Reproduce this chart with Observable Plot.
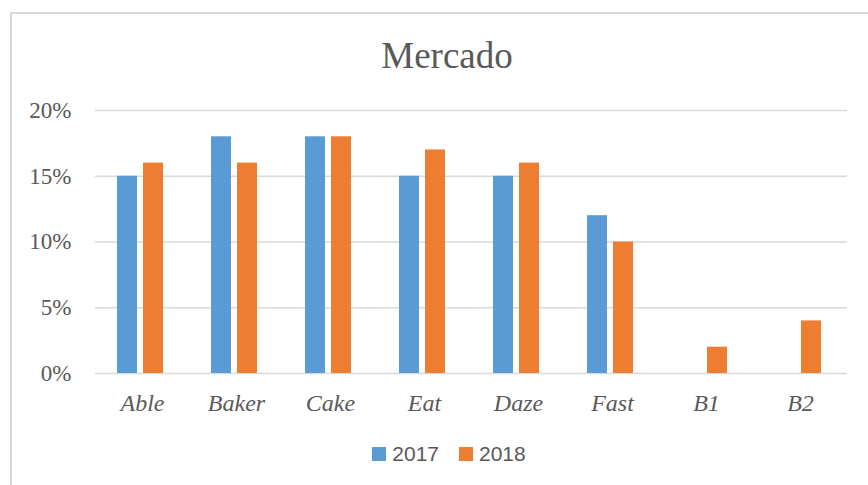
<!DOCTYPE html>
<html>
<head>
<meta charset="utf-8">
<script src="https://cdn.jsdelivr.net/npm/d3@7"></script>
<script src="https://cdn.jsdelivr.net/npm/@observablehq/plot@0.6"></script>
<style>
  html, body { margin: 0; padding: 0; background: #fff; overflow: hidden; }
  #wrap { position: relative; width: 868px; height: 485px; }
  #frame { position: absolute; left: 10px; top: 12px; width: 900px; height: 520px; border: 2px solid #d9d9d9; box-sizing: border-box; }
  #title { position: absolute; left: 11px; width: 872px; top: 37px; text-align: center; font-family: "Liberation Serif", serif; font-size: 37px; line-height: 37px; color: #595959; }
  #chart { position: absolute; left: 0; top: 90px; }
  #legend { position: absolute; left: 13px; width: 872px; top: 443px; display: flex; justify-content: center; align-items: center; font-family: "Liberation Sans", sans-serif; font-size: 21px; line-height: 21px; color: #595959; }
  #legend .sw { display: inline-block; width: 14px; height: 14px; margin-right: 6px; }
  #legend .item { display: flex; align-items: center; margin: 0 10px; }
  #chart svg text { font-family: "Liberation Serif", serif !important; }
  #chart svg [aria-label^="y-axis"] text { font-size: 23px; }
  #chart svg [aria-label^="fx-axis"] text { font-style: italic; font-size: 24px; }
</style>
</head>
<body>
<div id="wrap">
  <div id="frame"></div>
  <div id="title">Mercado</div>
  <div id="chart"></div>
  <div id="legend"></div>
</div>
<script>
const categories = ["Able", "Baker", "Cake", "Eat", "Daze", "Fast", "B1", "B2"];
const years = ["2017", "2018"];
const values2017 = [0.15, 0.18, 0.18, 0.15, 0.15, 0.12, null, null];
const values2018 = [0.16, 0.16, 0.18, 0.17, 0.16, 0.10, 0.02, 0.04];
const yTicks = [0, 0.05, 0.10, 0.15, 0.20];
const colors = ["#5B9BD5", "#ED7D31"];

const series = [values2017, values2018];
const data = [];
categories.forEach((c, i) => {
  years.forEach((y, j) => {
    const v = series[j][i];
    if (v != null) data.push({cat: c, year: y, value: v});
  });
});

const chart = Plot.plot({
  width: 868,
  height: 330,
  marginTop: 20,
  marginBottom: 47,
  marginLeft: 93,
  marginRight: 19,
  style: { fontFamily: "'Liberation Serif', serif", fontSize: "22px", color: "#595959", background: "transparent" },
  fx: { domain: categories, padding: 0, axis: "bottom", tickSize: 0, tickPadding: 20, label: null },
  x: { domain: years, paddingInner: 0.222, paddingOuter: 0.861, axis: null },
  y: { domain: [0, 0.2], ticks: yTicks, tickSize: 0, tickPadding: 24, tickFormat: d => Math.round(d * 100) + "%", label: null },
  color: { domain: years, range: colors },
  marks: [
    Plot.gridY(yTicks, { stroke: "#d9d9d9", strokeOpacity: 1, strokeWidth: 1.5 }),
    Plot.barY(data, { fx: "cat", x: "year", y: "value", fill: "year", dx: -2 })
  ]
});
document.getElementById("chart").appendChild(chart);

const legend = document.getElementById("legend");
years.forEach((y, i) => {
  const item = document.createElement("div");
  item.className = "item";
  const sw = document.createElement("span");
  sw.className = "sw";
  sw.style.background = colors[i];
  const t = document.createElement("span");
  t.textContent = y;
  item.appendChild(sw);
  item.appendChild(t);
  legend.appendChild(item);
});
</script>
</body>
</html>
